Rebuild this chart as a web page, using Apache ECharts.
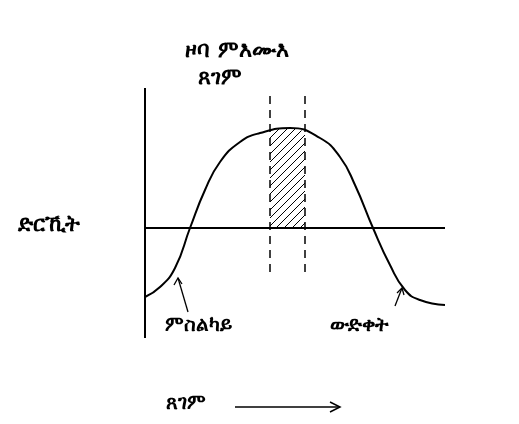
<!DOCTYPE html>
<html><head><meta charset="utf-8">
<script src="https://cdn.jsdelivr.net/npm/echarts@6/dist/echarts.min.js"></script>
<style>html,body{margin:0;background:#fff}#chart{width:519px;height:424px}</style>
</head><body><div id="chart"></div>
<script>
// curve (x = time units, y = pressure units)
var curveX = [0, 1.5, 3, 4.5, 6, 7.5, 9.5, 11.5, 14.5, 17.5, 19.5, 21, 22.8, 24.5, 26, 27.5, 30];
var curveY = [-6.9, -5.9, -4, 0, 3.8, 6.6, 8.6, 9.5, 10, 9.0, 7.1, 4.3, 0, -3.7, -6.2, -7.2, -7.7];
var zoneX = [12.5, 14.5, 16];
var zoneY = [9.7, 10, 9.6];
var dashX = [12.5, 16];
var dashRange = [-4.4, 13.3];

var labelFont = "'DejaVu Sans', 'Noto Sans', serif";
var myChart = echarts.init(document.getElementById('chart'));

// diagonal hatch pattern
var hatch = document.createElement('canvas');
hatch.width = 8; hatch.height = 8;
var ctx = hatch.getContext('2d');
ctx.strokeStyle = '#000'; ctx.lineWidth = 1;
ctx.beginPath(); ctx.moveTo(0, 8); ctx.lineTo(8, 0); ctx.moveTo(-1, 1); ctx.lineTo(1, -1); ctx.moveTo(7, 9); ctx.lineTo(9, 7); ctx.stroke();

function pairs(xs, ys) { return xs.map(function (x, i) { return [x, ys[i]]; }); }

var dashSeries = dashX.map(function (x) {
    return {
        type: 'line', data: [[x, dashRange[0]], [x, dashRange[1]]], symbol: 'none', silent: true,
        lineStyle: { color: '#000', width: 1.5, type: [8, 6] }
    };
});

myChart.setOption({
    animation: false,
    grid: { left: 145, top: 88, width: 300, height: 250 },
    xAxis: { type: 'value', min: 0, max: 30, show: false },
    yAxis: { type: 'value', min: -11, max: 14, show: false },
    series: [
        {
            type: 'line', data: pairs(zoneX, zoneY), symbol: 'none', smooth: true,
            lineStyle: { width: 0 }, areaStyle: { color: { image: hatch, repeat: 'repeat' }, opacity: 1, origin: 0 }
        },
        {
            type: 'line', data: pairs(curveX, curveY), symbol: 'none', smooth: true,
            lineStyle: { color: '#000', width: 2 },
            markLine: {
                symbol: 'none', silent: true, label: { show: false },
                lineStyle: { color: '#000', width: 2, type: 'solid' },
                data: [[{ coord: [0, 0] }, { coord: [30, 0] }],
                       [{ coord: [0, -11] }, { coord: [0, 14] }]]
            }
        }
    ].concat(dashSeries),
    graphic: [
        { type: 'text', left: 185, top: 40, style: { text: 'ዞባ ምእሙእ', font: 'bold 22px ' + labelFont, fill: '#000' } },
        { type: 'text', left: 198, top: 67, style: { text: 'ጸገም', font: 'bold 22px ' + labelFont, fill: '#000' } },
        { type: 'text', left: 18, top: 214, style: { text: 'ድርኺት', font: 'bold 22px ' + labelFont, fill: '#000' } },
        { type: 'text', left: 165, top: 316, style: { text: 'ምስልካይ', font: 'bold 20px ' + labelFont, fill: '#000' } },
        { type: 'text', left: 330, top: 316, style: { text: 'ውድቀት', font: 'bold 20px ' + labelFont, fill: '#000' } },
        { type: 'text', left: 166, top: 394, style: { text: 'ጸገም', font: 'bold 20px ' + labelFont, fill: '#000' } },
        { type: 'polyline', shape: { points: [[188, 312], [178, 278]] }, style: { stroke: '#000', lineWidth: 1.3, fill: null } },
        { type: 'polyline', shape: { points: [[174, 285], [178, 278], [182, 284]] }, style: { stroke: '#000', lineWidth: 1.3, fill: null } },
        { type: 'polyline', shape: { points: [[395, 306], [402, 288]] }, style: { stroke: '#000', lineWidth: 1.3, fill: null } },
        { type: 'polyline', shape: { points: [[397, 293], [402, 288], [404, 295]] }, style: { stroke: '#000', lineWidth: 1.3, fill: null } },
        { type: 'polyline', shape: { points: [[235, 407], [340, 407]] }, style: { stroke: '#000', lineWidth: 1.5, fill: null } },
        { type: 'polyline', shape: { points: [[330, 402], [340, 407], [330, 412]] }, style: { stroke: '#000', lineWidth: 1.5, fill: null } }
    ]
});
window.onresize = function () { myChart.resize(); };
</script></body></html>
